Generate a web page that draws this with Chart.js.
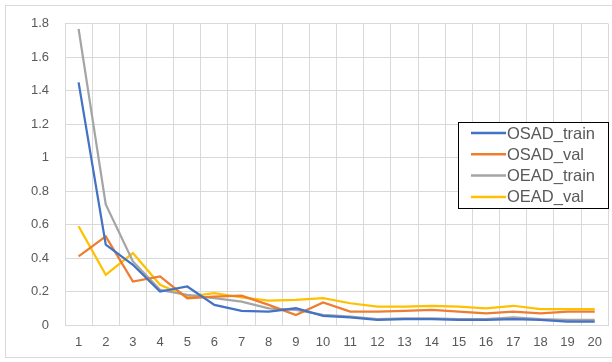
<!DOCTYPE html>
<html>
<head>
<meta charset="utf-8">
<script src="https://cdn.jsdelivr.net/npm/chart.js@4.4.0/dist/chart.umd.min.js"></script>
<style>
  html, body { margin: 0; padding: 0; background: #fff; }
  #wrap { width: 612px; height: 362px; position: relative; }
</style>
</head>
<body>
<div id="wrap"><canvas id="lossChart" width="612" height="362"></canvas></div>
<script>
const epochs = ['1','2','3','4','5','6','7','8','9','10','11','12','13','14','15','16','17','18','19','20'];
const osadTrain = [1.45, 0.48, 0.36, 0.20, 0.23, 0.12, 0.085, 0.08, 0.10, 0.055, 0.045, 0.03, 0.035, 0.035, 0.03, 0.03, 0.035, 0.03, 0.02, 0.02];
const osadVal   = [0.41, 0.53, 0.26, 0.29, 0.16, 0.17, 0.175, 0.12, 0.06, 0.135, 0.08, 0.08, 0.085, 0.09, 0.08, 0.07, 0.08, 0.07, 0.08, 0.08];
const oeadTrain = [1.77, 0.72, 0.38, 0.21, 0.18, 0.16, 0.14, 0.10, 0.09, 0.06, 0.05, 0.035, 0.04, 0.04, 0.035, 0.035, 0.045, 0.035, 0.03, 0.03];
const oeadVal   = [0.59, 0.30, 0.43, 0.24, 0.17, 0.19, 0.165, 0.145, 0.15, 0.16, 0.13, 0.11, 0.11, 0.115, 0.11, 0.10, 0.115, 0.095, 0.095, 0.095];

const textColor = '#595959';
const gridColor = '#d9d9d9';

// outer chart border + legend box inside the plot
const excelFrame = {
    id: 'excelFrame',
    afterDraw(chart) {
        const ctx = chart.ctx;
        ctx.save();
        ctx.strokeStyle = '#d9d9d9';
        ctx.lineWidth = 1;
        ctx.strokeRect(5.5, 5.5, 611, 352);

        const x = 458.5, y = 122.5, w = 150, h = 86;
        ctx.fillStyle = '#fff';
        ctx.fillRect(x, y, w, h);
        ctx.strokeStyle = '#000';
        ctx.strokeRect(x, y, w, h);
        ctx.font = '16.5px "Liberation Sans", Arial, sans-serif';
        ctx.textBaseline = 'middle';
        chart.data.datasets.forEach((ds, i) => {
            const ly = 133 + i * 21.3;
            ctx.strokeStyle = ds.borderColor;
            ctx.lineWidth = 2.5;
            ctx.beginPath();
            ctx.moveTo(471, ly);
            ctx.lineTo(506, ly);
            ctx.stroke();
            ctx.fillStyle = textColor;
            ctx.fillText(ds.label, 507, ly + 1);
        });
        ctx.restore();
    }
};

const ctx = document.getElementById('lossChart').getContext('2d');
new Chart(ctx, {
    type: 'line',
    data: {
        labels: epochs,
        datasets: [
            { label: 'OSAD_train', data: osadTrain, borderColor: '#4472C4' },
            { label: 'OSAD_val', data: osadVal, borderColor: '#ED7D31' },
            { label: 'OEAD_train', data: oeadTrain, borderColor: '#A5A5A5' },
            { label: 'OEAD_val', data: oeadVal, borderColor: '#FFC000' },
        ].map(d => Object.assign(d, { borderWidth: 2.25, pointRadius: 0, tension: 0, fill: false }))
    },
    options: {
        responsive: false,
        animation: false,
        layout: { padding: { top: 18, right: 2, left: 0, bottom: 0 } },
        plugins: {
            legend: { display: false },
            tooltip: { enabled: false },
        },
        scales: {
            x: {
                offset: true,
                grid: { offset: true, color: gridColor, drawTicks: false },
                border: { color: gridColor },
                ticks: {
                    color: textColor,
                    padding: 10,
                    maxRotation: 0,
                    autoSkip: false,
                    font: { family: '"Liberation Sans", Arial, sans-serif', size: 13 },
                },
                afterFit(scale) { scale.height = 37; },
            },
            y: {
                min: 0,
                max: 1.8,
                grid: { color: gridColor, drawTicks: false },
                border: { display: false },
                ticks: {
                    stepSize: 0.2,
                    color: textColor,
                    padding: 16,
                    font: { family: '"Liberation Sans", Arial, sans-serif', size: 13 },
                    callback: v => Math.round(v * 10) / 10,
                },
                afterFit(scale) { scale.width = 65; },
            },
        },
    },
    plugins: [excelFrame],
});
</script>
</body>
</html>
